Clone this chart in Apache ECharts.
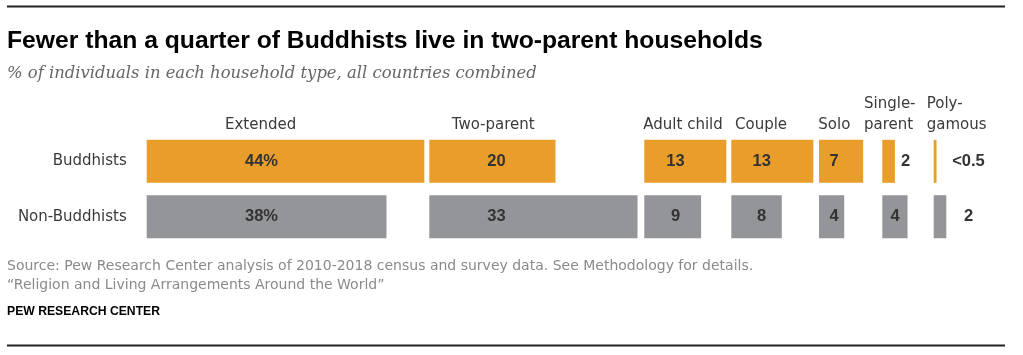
<!DOCTYPE html>
<html>
<head>
<meta charset="utf-8">
<script src="https://cdn.jsdelivr.net/npm/echarts@6/dist/echarts.min.js"></script>
<style>
  html, body { margin: 0; padding: 0; background: #fff; }
  #chart { width: 1023px; height: 355px; }
</style>
</head>
<body>
<div id="chart"></div>
<script>
// ---- data ----
const categories = ['Extended', 'Two-parent', 'Adult child', 'Couple', 'Solo', 'Single-\nparent', 'Poly-\ngamous'];
const rows = ['Buddhists', 'Non-Buddhists'];
const buddhists = [44, 20, 13, 13, 7, 2, 0.45];
const nonBuddhists = [38, 33, 9, 8, 4, 4, 2];
const buddhistLabels = ['44%', '20', '13', '13', '7', '2', '<0.5'];
const nonBuddhistLabels = ['38%', '33', '9', '8', '4', '4', '2'];

const titleText = 'Fewer than a quarter of Buddhists live in two-parent households';
const subtitleText = '% of individuals in each household type, all countries combined';
const sourceText = 'Source: Pew Research Center analysis of 2010-2018 census and survey data. See Methodology for details.\n\u201CReligion and Living Arrangements Around the World\u201D';
const creditText = 'PEW RESEARCH CENTER';

// ---- layout ----
const pxPerUnit = 6.31;
const colStart = [146.7, 429.3, 644.3, 731.3, 819, 882.3, 933.7];
const labelDx = [114.8, 67.2, 31.2, 30.4, 15, 12.7, 34.8];
const headerX = [225, 451.7, 643.3, 735, 818.3, 864, 926.7];
const gridTop = 133.6, gridHeight = 110.8;
const ORANGE = '#E99E2C', GRAY = '#939598';
const FONT = '"DejaVu Sans", sans-serif';

const grids = [], xAxes = [], yAxes = [], series = [];
categories.forEach((cat, i) => {
  const colMax = Math.max(buddhists[i], nonBuddhists[i]);
  grids.push({ left: colStart[i], top: gridTop, height: gridHeight, width: colMax * pxPerUnit, containLabel: false });
  xAxes.push({ type: 'value', gridIndex: i, min: 0, max: colMax, show: false });
  yAxes.push({
    type: 'category', gridIndex: i, data: rows, inverse: true, show: i === 0,
    axisLine: { show: false }, axisTick: { show: false }, splitLine: { show: false },
    axisLabel: { show: i === 0, margin: 20, fontSize: 15, color: '#3a3a3a', fontFamily: FONT }
  });
  const mkLabel = (txt, isOutside) => isOutside
    ? { show: true, position: 'right', distance: 6, formatter: txt }
    : { show: true, position: [labelDx[i], '50%'], align: 'center', verticalAlign: 'middle', formatter: txt };
  series.push({
    type: 'bar', xAxisIndex: i, yAxisIndex: i, barWidth: 43, silent: true, animation: false,
    label: { fontFamily: '"Liberation Sans", Arial, sans-serif', fontWeight: 'bold', fontSize: 16.5, color: '#333' },
    data: [
      { value: buddhists[i], itemStyle: { color: ORANGE }, label: mkLabel(buddhistLabels[i], i === 5) },
      { value: nonBuddhists[i], itemStyle: { color: GRAY }, label: mkLabel(nonBuddhistLabels[i], false) }
    ]
  });
});

const graphics = [
  { type: 'line', shape: { x1: 7, y1: 6.5, x2: 1005, y2: 6.5 }, style: { stroke: '#222', lineWidth: 2 } },
  { type: 'line', shape: { x1: 7, y1: 345.5, x2: 1005, y2: 345.5 }, style: { stroke: '#222', lineWidth: 2 } },
  { type: 'text', left: 7, top: 29, style: { text: titleText, font: 'bold 24.7px "Liberation Sans", Arial, sans-serif', fill: '#000' } },
  { type: 'text', left: 7, top: 66, style: { text: subtitleText, font: 'italic 16.4px "DejaVu Serif", serif', fill: '#666' } },
  { type: 'text', left: 7, top: 257, style: { text: sourceText, font: '14px ' + FONT, fill: '#8a8a8a', lineHeight: 19 } },
  { type: 'text', left: 7, top: 306, style: { text: creditText, font: 'bold 12.2px "Liberation Sans", Arial, sans-serif', fill: '#000' } }
];
categories.forEach((cat, i) => {
  graphics.push({
    type: 'text', x: headerX[i], y: 136,
    style: { text: cat, font: '15px ' + FONT, fill: '#3a3a3a', textAlign: 'left', textVerticalAlign: 'bottom', lineHeight: 21 }
  });
});

const chart = echarts.init(document.getElementById('chart'), null, { renderer: 'canvas' });
chart.setOption({
  animation: false,
  grid: grids, xAxis: xAxes, yAxis: yAxes, series: series,
  graphic: graphics
});
</script>
</body>
</html>
